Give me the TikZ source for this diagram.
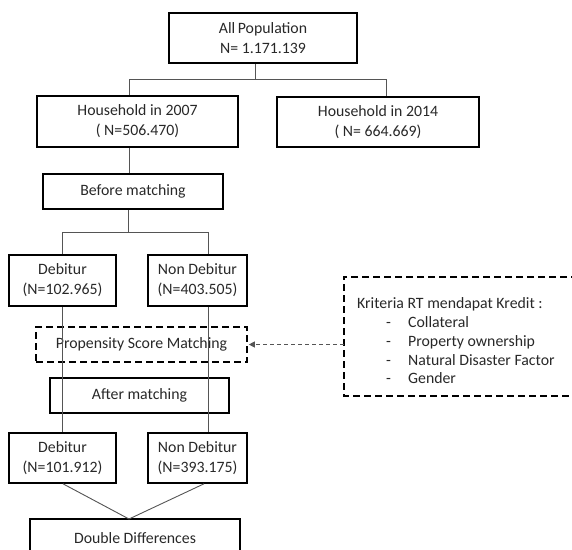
\documentclass[tikz,border=0pt]{standalone}
\usepackage{fontspec}
\setmainfont{Carlito}
\usetikzlibrary{arrows.meta}
\definecolor{flowink}{RGB}{40,40,40}
\definecolor{flowline}{RGB}{85,85,85}

\begin{document}
\begin{tikzpicture}[x=1pt, y=-1pt,
    box/.style={draw=black, line width=1.6pt, align=center, inner sep=0pt, text=flowink, font=\fontsize{15.8}{20}\selectfont},
    dashbox/.style={box, dash pattern=on 7pt off 4pt},
    dashedge/.style={draw=black, line width=1.6pt, dash pattern=on 7pt off 4pt},
    link/.style={draw=flowline, line width=0.9pt}
  ]
  \useasboundingbox (0,0) rectangle (572,549);
  \clip (0,0) rectangle (572,549);

  % boxes
  \node[box, minimum width=188pt, minimum height=50pt] (allpop) at (263, 38) {All\,Population\\N= 1.171.139};
  \node[box, minimum width=201pt, minimum height=51pt] (hh07) at (137.5, 121.5) {Household in 2007\\( N=506.470)};
  \node[box, minimum width=202pt, minimum height=50pt] (hh14) at (378, 122) {Household in 2014\\( N= 664.669)};
  \node[box, minimum width=180pt, minimum height=35pt] (before) at (133, 191.5) {Before matching};
  \node[box, minimum width=107pt, minimum height=51pt] (deb1) at (62.5, 280.5) {Debitur\\(N=102.965)};
  \node[box, minimum width=99pt, minimum height=51pt] (ndeb1) at (197.5, 280.5) {Non Debitur\\(N=403.505)};
  \node[dashbox, minimum width=211pt, minimum height=35pt] (psm) at (141.5, 344.5) {Propensity Score Matching};
  \node[box, minimum width=179pt, minimum height=35pt] (after) at (139.5, 395.5) {After matching};
  \node[box, minimum width=107pt, minimum height=50pt] (deb2) at (62.5, 458) {Debitur\\(N=101.912)};
  \node[box, minimum width=99pt, minimum height=50pt] (ndeb2) at (197.5, 458) {Non Debitur\\(N=393.175)};
  \node[box, minimum width=210pt, minimum height=38pt] (dd) at (135, 538) {Double Differences};

  % criteria (runs off the right edge)
  \node[inner sep=0pt, minimum width=256pt, minimum height=119pt] (krit) at (472, 336.5) {};
  \draw[dashedge] (krit.north east) -- (krit.north west) -- (krit.south west) -- (krit.south east);
  \node[anchor=west, inner sep=0pt, align=left, text=flowink, font=\fontsize{15.8}{18.75}\selectfont] (kritext) at (357, 341) {%
    Kriteria RT mendapat Kredit :\\
    \hspace*{29pt}\makebox[22pt][l]{-}Collateral\\
    \hspace*{29pt}\makebox[22pt][l]{-}Property ownership\\
    \hspace*{29pt}\makebox[22pt][l]{-}Natural Disaster Factor\\
    \hspace*{29pt}\makebox[22pt][l]{-}Gender};

  % junctions
  \coordinate (top) at (255, 79);
  \coordinate (topl) at (129, 79);
  \coordinate (topr) at (386, 79);
  \coordinate (mid) at (128, 232);
  \coordinate (midl) at (62, 232);
  \coordinate (midr) at (208, 232);
  \coordinate (low) at (129, 519);

  % connectors
  \draw[link] (allpop.south -| top) -- (top);
  \draw[link] (hh07.north -| topl) -- (topl) -- (topr) -- (hh14.north -| topr);
  \draw[link] (hh07.south -| topl) -- (before.north -| topl);
  \draw[link] (before.south -| mid) -- (mid);
  \draw[link] (deb1.north -| midl) -- (midl) -- (midr) -- (ndeb1.north -| midr);
  \draw[link] (deb1.south -| midl) -- (deb2.north -| midl);
  \draw[link] (ndeb1.south -| midr) -- (ndeb2.north -| midr);
  \draw[link] ([xshift=0.5pt]deb2.south) -- (low);
  \draw[link] ([xshift=6.5pt]ndeb2.south) -- (low);
  \draw[link, dash pattern=on 4pt off 3pt, -{Triangle[length=6pt, width=6pt]}, shorten >=1pt] (krit.west |- psm.east) -- (psm.east);
\end{tikzpicture}
\end{document}
